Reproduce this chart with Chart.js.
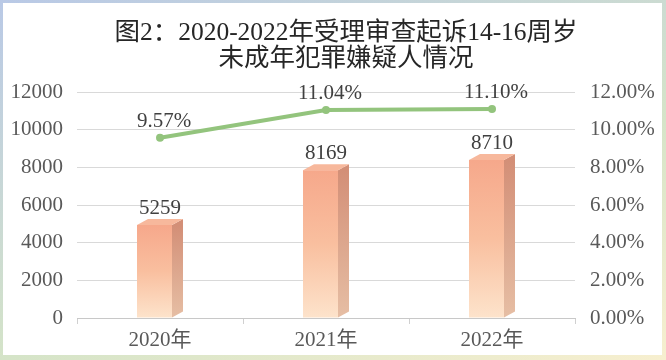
<!DOCTYPE html>
<html>
<head>
<meta charset="utf-8">
<script src="https://cdn.jsdelivr.net/npm/chart.js@4"></script>
<style>
  html, body { margin: 0; padding: 0; background: #fff; }
  .frame {
    position: relative; width: 666px; height: 360px; box-sizing: border-box;
    background: linear-gradient(160deg, #b9c9e6 0%, #d5e4c8 60%, #f7efcf 100%);
  }
  .inner { position: absolute; left: 3px; top: 3px; right: 4px; bottom: 5px; background: #fff; }
  canvas { position: absolute; left: 0; top: 0; }
</style>
</head>
<body>
<div class="frame">
  <div class="inner"></div>
  <canvas id="chart" width="666" height="360"></canvas>
</div>
<script>
// 数据
const years = ['2020年', '2021年', '2022年'];
const suspects = [5259, 8169, 8710];
const ratio = [9.57, 11.04, 11.10];
const titleLines = ['图2：2020-2022年受理审查起诉14-16周岁', '未成年犯罪嫌疑人情况'];

const SERIF = "'Liberation Serif', 'Noto Sans CJK SC', serif";

// 标题稍微偏右
const titleShift = {
  id: 'titleShift',
  afterLayout(chart) {
    if (chart.titleBlock) chart.titleBlock.left += 26;
  }
};

// 3D 柱子 + 数据标签
const bar3d = {
  id: 'bar3d',
  afterDatasetDraw(chart, args) {
    if (args.index !== 0) return;
    const ctx = chart.ctx;
    const meta = chart.getDatasetMeta(0);
    const dx = 11, dy = 6;
    meta.data.forEach((el, i) => {
      const half = el.width / 2;
      const x0 = el.x - half - dx / 2, x1 = el.x + half - dx / 2;
      const top = el.y + dy, base = el.base;
      ctx.save();
      // 正面
      let g = ctx.createLinearGradient(0, top, 0, base);
      g.addColorStop(0, '#f6a88b');
      g.addColorStop(0.5, '#f9bf9f');
      g.addColorStop(1, '#fde3cb');
      ctx.fillStyle = g;
      ctx.fillRect(x0, top, x1 - x0, base - top);
      // 侧面
      g = ctx.createLinearGradient(0, top, 0, base);
      g.addColorStop(0, '#d38f77');
      g.addColorStop(1, '#e6bea4');
      ctx.fillStyle = g;
      ctx.beginPath();
      ctx.moveTo(x1, top); ctx.lineTo(x1 + dx, top - dy);
      ctx.lineTo(x1 + dx, base - dy); ctx.lineTo(x1, base);
      ctx.closePath(); ctx.fill();
      // 顶面
      ctx.fillStyle = '#f7b89c';
      ctx.beginPath();
      ctx.moveTo(x0, top); ctx.lineTo(x1, top);
      ctx.lineTo(x1 + dx, top - dy); ctx.lineTo(x0 + dx, top - dy);
      ctx.closePath(); ctx.fill();
      // 数值
      ctx.fillStyle = '#404040';
      ctx.font = '21px ' + SERIF;
      ctx.textAlign = 'center';
      ctx.textBaseline = 'alphabetic';
      ctx.fillText(String(suspects[i]), el.x, el.y - 5);
      ctx.restore();
    });
  },
  afterDatasetsDraw(chart) {
    const ctx = chart.ctx;
    const meta = chart.getDatasetMeta(1);
    ctx.save();
    ctx.fillStyle = '#404040';
    ctx.font = '21px ' + SERIF;
    ctx.textAlign = 'center';
    meta.data.forEach((pt, i) => {
      ctx.fillText(ratio[i].toFixed(2) + '%', pt.x + 4, pt.y - 11);
    });
    ctx.restore();
  }
};

new Chart(document.getElementById('chart'), {
  data: {
    labels: years,
    datasets: [{
      type: 'bar',
      label: '人数',
      data: suspects,
      yAxisID: 'y',
      backgroundColor: 'rgba(0,0,0,0)',
      barThickness: 35,
      order: 1,
    }, {
      type: 'line',
      label: '占比',
      data: ratio,
      yAxisID: 'y1',
      borderColor: '#93c47d',
      backgroundColor: '#93c47d',
      borderWidth: 4,
      pointRadius: 4,
      pointBorderWidth: 0,
      tension: 0,
      order: 0,
    }]
  },
  options: {
    responsive: false,
    animation: false,
    layout: { padding: 0 },
    plugins: {
      legend: { display: false },
      tooltip: { enabled: false },
      title: {
        display: true,
        text: titleLines,
        color: '#262626',
        font: { family: SERIF, size: 25.5, weight: 'normal', lineHeight: 1.0 },
        padding: { top: 21, bottom: 20 },
      },
    },
    scales: {
      x: {
        offset: true,
        grid: { display: true, drawOnChartArea: false, color: '#d0d0d0', tickLength: 6, offset: true },
        border: { display: true, color: '#c8c8c8' },
        ticks: { color: '#595959', font: { family: SERIF, size: 21 }, padding: 4 },
        afterFit: (s) => { s.height = 42; },
      },
      y: {
        position: 'left',
        min: 0, max: 12000,
        ticks: { stepSize: 2000, color: '#595959', font: { family: SERIF, size: 21 }, padding: 14,
                 callback: (v) => String(v) },
        grid: { color: '#d9d9d9', drawTicks: false },
        border: { display: false },
        afterFit: (s) => { s.width = 77; },
      },
      y1: {
        position: 'right',
        min: 0, max: 12,
        ticks: { stepSize: 2, color: '#595959', font: { family: SERIF, size: 21 }, padding: 15,
                 callback: (v) => v.toFixed(2) + '%' },
        grid: { drawOnChartArea: false, drawTicks: false },
        border: { display: false },
        afterFit: (s) => { s.width = 91; },
      },
    },
  },
  plugins: [bar3d, titleShift],
});
</script>
</body>
</html>
